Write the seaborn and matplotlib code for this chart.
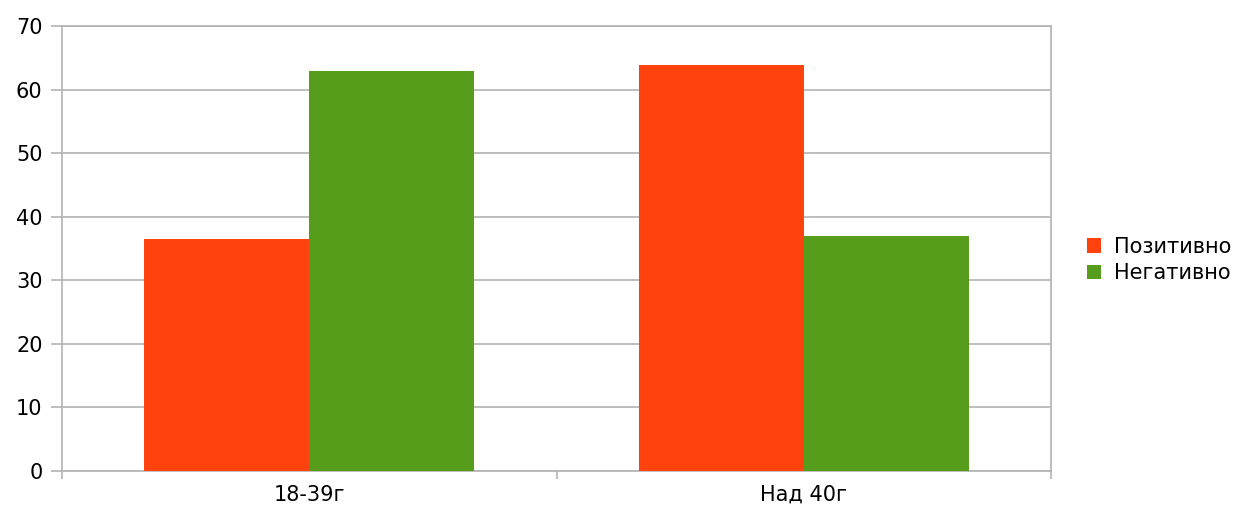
import matplotlib
matplotlib.use("Agg")
import matplotlib.pyplot as plt
import seaborn as sns
import pandas as pd
from matplotlib.ticker import FixedLocator

categories = ["18-39г", "Над 40г"]
series_names = ["Позитивно", "Негативно"]
positive = [36.5, 63.8]
negative = [63.0, 37.0]
colors = ["#ff420e", "#579d1c"]
y_ticks = [0, 10, 20, 30, 40, 50, 60, 70]

df = pd.DataFrame({
    "cat": categories * 2,
    "series": [series_names[0]] * 2 + [series_names[1]] * 2,
    "value": positive + negative,
})

sns.set_style("white")
plt.rcParams["font.family"] = ["DejaVu Sans"]
plt.rcParams["text.color"] = "black"
FS = 15

fig = plt.figure(figsize=(12.47, 5.05), dpi=100)
ax = fig.add_axes([62/1247, 34/505, (1051-62)/1247, (471-26)/505])

sns.barplot(data=df, x="cat", y="value", hue="series", palette=colors,
            width=2/3, gap=0, dodge=True, ax=ax, saturation=1,
            edgecolor="none", linewidth=0, legend=True, zorder=3)

ax.set_xlim(-0.5, 1.5)
ax.set_ylim(0, 70)
ax.set_yticks(y_ticks)
ax.set_xlabel("")
ax.set_ylabel("")
ax.yaxis.grid(True, color="#b3b3b3", linewidth=1.2, zorder=0)
ax.set_axisbelow(True)
for s in ax.spines.values():
    s.set_visible(True)
    s.set_color("#b3b3b3")
    s.set_linewidth(1.2)
ax.tick_params(axis="y", left=True, length=8, color="#b3b3b3", width=1.2,
               labelsize=FS, pad=6, labelcolor="black")
ax.tick_params(axis="x", which="major", bottom=True, length=0, labelsize=FS,
               pad=10, labelcolor="black")
ax.xaxis.set_minor_locator(FixedLocator([-0.5, 0.5, 1.5]))
ax.tick_params(axis="x", which="minor", bottom=True, length=6, color="#b3b3b3", width=1.2)

h, l = ax.get_legend_handles_labels()
ax.get_legend().remove()
leg = fig.legend(h, l, loc="center left", bbox_to_anchor=(1072/1247, 1 - 260/505),
                 frameon=False, fontsize=FS, handlelength=0.7, handleheight=0.7,
                 handletextpad=0.6, labelspacing=0.3, borderpad=0.2)
for t in leg.get_texts():
    t.set_color("black")

fig.savefig("out.png", dpi=100)
